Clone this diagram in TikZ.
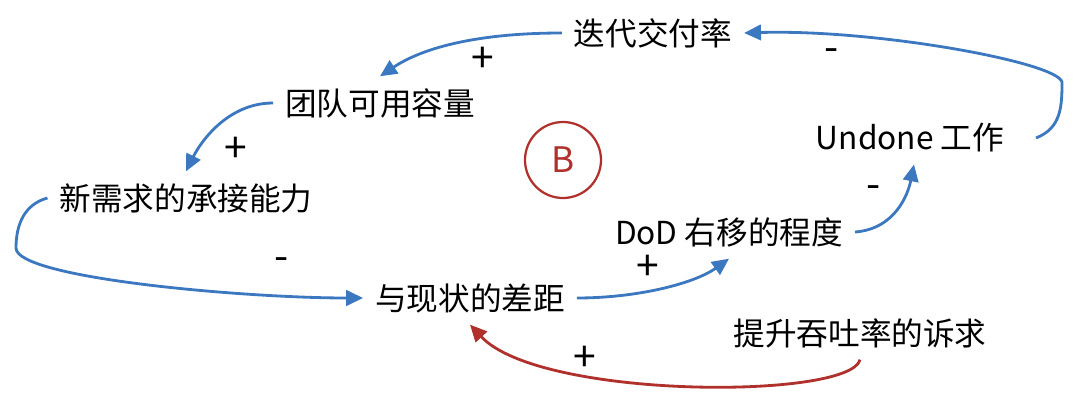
\documentclass[tikz,border=0pt]{standalone}
\usepackage{fontspec}
\setmainfont{Noto Sans CJK SC}
\usetikzlibrary{arrows.meta}
\definecolor{loopblue}{HTML}{3C78C0}
\definecolor{loopred}{HTML}{B0302C}
\tikzset{
    every node/.append style={font=\fontsize{22.5}{27}\selectfont}}

\begin{document}
\begin{tikzpicture}
  [x=0.025cm,y=-0.025cm,
  	link/.style={->,>={Triangle[length=12pt,width=11pt]},draw=loopblue,line width=2pt},
  	var/.style={inner xsep=0.3cm,inner ysep=0.1cm,outer sep=0pt},
  	sign/.style={inner sep=0pt,font=\fontsize{29}{32}\selectfont}
  ]
  \useasboundingbox (0,0) rectangle (1080,403);
  \node [var] (n1) at (653,33) {迭代交付率};
  \node [var] (n2) at (380,103) {团队可用容量};
  \node [var] (n3) at (186,198) {新需求的承接能力};
  \node [var] (n4) at (470,298) {与现状的差距};
  \node [var] (n5) at (729,232) {DoD 右移的程度};
  \node [var] (n6) at (910,138) {Undone 工作};
  \node [var] (n7) at (860,333) {提升吞吐率的诉求};
  \node [circle,draw=loopred,line width=1.6pt,minimum size=1.9cm,text=loopred,
        font=\fontsize{25}{30}\selectfont] (b) at (563,160) {B};

  \node [sign] (s1) at (483,60) {+};
  \node [sign] (s2) at (236,150) {+};
  \node [sign] (s3) at (282,264) {-};
  \node [sign] (s4) at (648,268) {+};
  \node [sign] (s5) at (874,192) {-};
  \node [sign] (s6) at (832,55) {-};
  \node [sign] (s7) at (585,359) {+};

  \draw [link] (n1.west) .. controls +(-80,0) and +(45,-30) .. ([yshift=0.2cm]n2.north);
  \draw [link] (n2.west) .. controls +(-45,0) and +(15,-30) .. ([yshift=0.2cm]n3.north);
  \draw [link] (n3.west) .. controls +(-22,6) and +(0,-25) .. (16,248)
    .. controls +(0,30) and +(-120,0) .. (n4.west);
  \draw [link] (n4.east) .. controls +(60,0) and +(-35,25) .. ([yshift=-0.2cm]n5.south);
  \draw [link] (n5.east) .. controls +(40,-3) and +(-6,30) .. ([xshift=0.1cm,yshift=-0.2cm]n6.south);
  \draw [link] ([xshift=0.5cm]n6.east) .. controls +(25,-10) and +(0,25) .. (1062,82)
    .. controls +(-5,-20) and +(130,-4) .. (n1.east);
  \draw [link,draw=loopred] ([yshift=-0.2cm]n7.south) .. controls +(-10,40) and +(70,75) .. ([yshift=-0.2cm]n4.south);
\end{tikzpicture}
\end{document}
